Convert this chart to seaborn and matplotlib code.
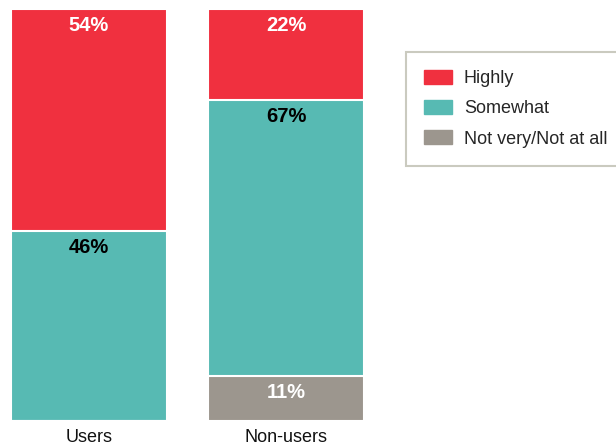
import numpy as np
import pandas as pd
import matplotlib
matplotlib.use("Agg")
import matplotlib.pyplot as plt
import matplotlib.patches as mpatches
import seaborn as sns

# ── Data ──────────────────────────────────────────────────────────────────────
groups     = ["Users", "Non-users"]
highly     = [54, 22]
somewhat   = [46, 67]
not_very   = [0, 11]
levels     = ["Highly", "Somewhat", "Not very/Not at all"]

RED   = "#F0303F"
TEAL  = "#57BAB3"
GRAY  = "#9C968E"
EDGE  = "#BDBDB0"

sns.set_theme(style="white")
plt.rcParams["font.family"] = ["Liberation Sans", "DejaVu Sans"]

fig = plt.figure(figsize=(6.16, 4.46), dpi=100)
ax = fig.add_axes([10.2 / 616, 25 / 446, 394 / 616, 412 / 446])

# cumulative tops for overlapping draw (bottom layer drawn last)
cum_gray = np.array(not_very)
cum_teal = cum_gray + np.array(somewhat)
cum_red = cum_teal + np.array(highly)

bar_kw = dict(width=0.79, edgecolor="white", linewidth=1.5, ax=ax, saturation=1)
for tops, col in [(cum_red, RED), (cum_teal, TEAL), (cum_gray, GRAY)]:
    df = pd.DataFrame({"group": groups, "top": tops})
    sns.barplot(data=df, x="group", y="top", color=col, **bar_kw)

# segment labels, just under each segment's top edge
for i in range(len(groups)):
    segs = [(cum_red[i], highly[i], "white"),
            (cum_teal[i], somewhat[i], "black"),
            (cum_gray[i], not_very[i], "white")]
    for top, val, tc in segs:
        if val <= 0:
            continue
        ax.annotate(f"{val}%", xy=(i, top), xytext=(0, -5),
                    textcoords="offset points", ha="center", va="top",
                    fontsize=14.5, fontweight="bold", color=tc)

ax.set_xlim(-0.4, 1.6)
ax.set_ylim(0, 100)
ax.set_xlabel("")
ax.set_ylabel("")
ax.set_yticks([])
ax.tick_params(axis="x", length=0, pad=6, labelsize=13, colors="#111111")
sns.despine(ax=ax, left=True, bottom=True)

handles = [mpatches.Patch(color=c, label=l) for c, l in zip([RED, TEAL, GRAY], levels)]
leg = fig.legend(handles=handles, loc="upper left",
                 bbox_to_anchor=(406 / 616, 1 - 52 / 446),
                 frameon=True, fancybox=False, fontsize=13,
                 handlelength=1.55, handleheight=0.8, handletextpad=0.66,
                 labelspacing=0.72, borderpad=1.0, borderaxespad=0)
leg.get_frame().set_edgecolor(EDGE)
leg.get_frame().set_linewidth(1.5)

fig.savefig("out.png", dpi=100)
